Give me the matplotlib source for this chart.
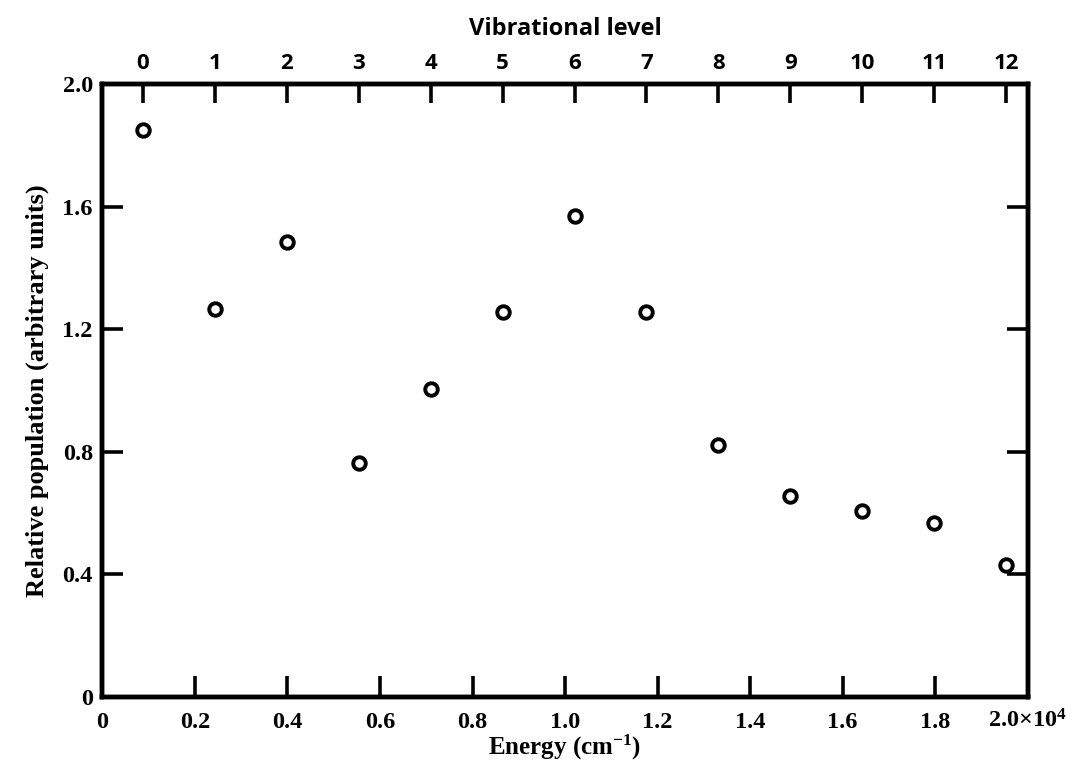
import matplotlib
matplotlib.use("Agg")
import matplotlib.pyplot as plt

# Data
levels = [0, 1, 2, 3, 4, 5, 6, 7, 8, 9, 10, 11, 12]
population = [1.85, 1.265, 1.485, 0.765, 1.005, 1.255, 1.57, 1.255, 0.823, 0.655, 0.607, 0.568, 0.432]
energy_ticks = [0, 0.2, 0.4, 0.6, 0.8, 1.0, 1.2, 1.4, 1.6, 1.8, 2.0]
energy_labels = ["0", "0.2", "0.4", "0.6", "0.8", "1.0", "1.2", "1.4", "1.6", "1.8", "2.0×10$^4$"]
pop_ticks = [0, 0.4, 0.8, 1.2, 1.6, 2.0]
pop_labels = ["0", "0.4", "0.8", "1.2", "1.6", "2.0"]
level_labels = [str(v) for v in levels]

# energy (x10^4 cm^-1) of level 0 and spacing between levels
E0 = 0.0876
dE = 0.1555

serif = "Liberation Serif"
sans = "Open Sans"

plt.rcParams["mathtext.fontset"] = "custom"
plt.rcParams["mathtext.rm"] = "Liberation Serif:bold"
plt.rcParams["mathtext.it"] = "Liberation Serif:bold"
plt.rcParams["mathtext.bf"] = "Liberation Serif:bold"

fig = plt.figure(figsize=(10.8, 7.65), dpi=100)
ax = fig.add_axes([0.0949, 0.0889, 0.8565, 0.8013])
ax.set_xlim(0, 2.0)
ax.set_ylim(0, 2.0)

for s in ax.spines.values():
    s.set_linewidth(3.2)

ax.tick_params(axis="x", direction="in", length=15, width=2.6, pad=22, top=False, labelsize=17.5)
ax.tick_params(axis="y", direction="in", length=15, width=2.6, pad=7, right=True, labelsize=17.5)
ax.set_xticks(energy_ticks)
ax.set_xticklabels(energy_labels)
ax.set_yticks(pop_ticks)
ax.set_yticklabels(pop_labels)
for lab in ax.get_xticklabels():
    lab.set_verticalalignment("baseline")
    lab.set_fontfamily(serif)
    lab.set_fontweight("bold")
    lab.set_fontsize(17.5)
for lab in ax.get_yticklabels():
    lab.set_fontfamily(serif)
    lab.set_fontweight("bold")
    lab.set_fontsize(17.5)
# hide tick marks at the spine ends
for t in [ax.xaxis.get_major_ticks()[0], ax.xaxis.get_major_ticks()[-1]]:
    t.tick1line.set_visible(False)
for t in [ax.yaxis.get_major_ticks()[0], ax.yaxis.get_major_ticks()[-1]]:
    t.tick1line.set_visible(False)
    t.tick2line.set_visible(False)

ax.set_xlabel("Energy (cm$^{-1}$)", fontfamily=serif, fontweight="bold", fontsize=18, labelpad=0)
ax.set_ylabel("Relative population (arbitrary units)", fontfamily=serif, fontweight="bold",
              fontsize=19, labelpad=10)

ax2 = ax.twiny()
ax2.set_xlim(-E0 / dE, (2.0 - E0) / dE)
ax2.tick_params(axis="x", direction="in", length=14, width=2.6, pad=7, labelsize=16)
ax2.set_xticks(levels)
ax2.set_xticklabels(level_labels)
for lab in ax2.get_xticklabels():
    lab.set_fontfamily(sans)
    lab.set_fontweight("bold")
    lab.set_fontsize(16)
ax2.set_xlabel("Vibrational level", fontfamily=sans, fontweight="bold", fontsize=17, labelpad=13)
for s in ax2.spines.values():
    s.set_linewidth(3.2)

ax2.plot(levels, population, linestyle="none", marker="o", markersize=9,
         markerfacecolor="white", markeredgecolor="black", markeredgewidth=2.8, clip_on=False)

fig.savefig("out.png", dpi=100)
